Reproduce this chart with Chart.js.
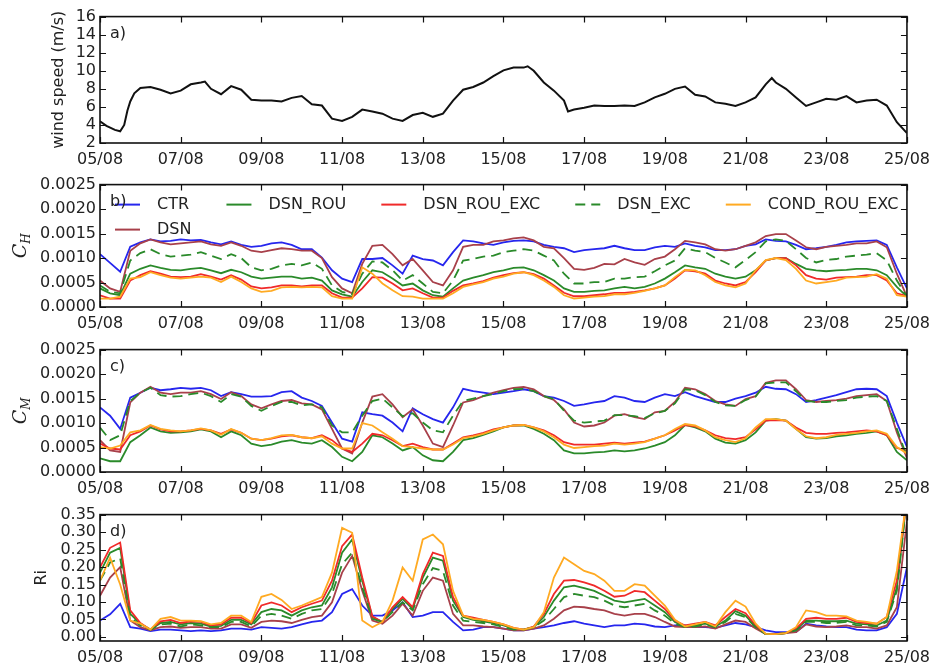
<!DOCTYPE html>
<html><head><meta charset="utf-8">
<script src="https://cdn.jsdelivr.net/npm/chart.js@4.4.1/dist/chart.umd.min.js"></script>
<style>
html,body{margin:0;padding:0;background:#fff;width:937px;height:666px;overflow:hidden;}
#wrap{position:relative;width:937px;height:666px;}
canvas{position:absolute;left:0;}
</style></head><body><div id="wrap">
<canvas id="ca"></canvas><canvas id="cb"></canvas><canvas id="cc"></canvas><canvas id="cd"></canvas>
</div>
<script>
// ---------- data ----------
const xTickValues = [0,2,4,6,8,10,12,14,16,18,20];
const xTickLabels = ['05/08','07/08','09/08','11/08','13/08','15/08','17/08','19/08','21/08','23/08','25/08'];
// time grid in days after 05/08 00:00, 6-hourly
const days = Array.from({length:81},(_,i)=>i/4);

const windDays = [0,0.16,0.37,0.5,0.6,0.68,0.75,0.85,1,1.25,1.5,1.75,2,2.25,2.5,2.6,2.75,3,3.25,3.5,3.75,4,4.25,4.5,4.75,5,5.25,5.5,5.75,6,6.25,6.5,6.75,7,7.25,7.5,7.75,8,8.25,8.5,8.75,9,9.25,9.5,9.75,10,10.25,10.5,10.6,10.75,11,11.25,11.5,11.6,11.75,12,12.25,12.5,12.75,13,13.25,13.5,13.75,14,14.25,14.5,14.75,15,15.25,15.5,15.75,16,16.25,16.5,16.65,16.75,17,17.25,17.5,17.75,18,18.25,18.5,18.75,19,19.25,19.5,19.75,20];
const windSpeed = [4.4,3.9,3.45,3.3,4.0,5.6,6.6,7.5,8.1,8.2,7.9,7.5,7.8,8.5,8.7,8.8,8.0,7.4,8.3,7.9,6.8,6.7,6.7,6.6,7.0,7.2,6.3,6.15,4.7,4.45,4.9,5.7,5.5,5.25,4.7,4.45,5.1,5.35,4.9,5.25,6.7,7.9,8.2,8.7,9.4,10.05,10.35,10.35,10.5,10.0,8.7,7.8,6.7,5.5,5.7,5.9,6.15,6.1,6.1,6.15,6.1,6.5,7.05,7.45,8.0,8.25,7.35,7.15,6.5,6.35,6.1,6.5,7.05,8.5,9.2,8.7,8.0,7.05,6.1,6.5,6.9,6.8,7.2,6.5,6.7,6.8,6.15,4.3,3.1];

const C_SCALE = 1e-4; // C_H and C_M arrays below are in units of 1e-4
const chCTR = [10.8,9.0,7.2,12.3,13.2,13.8,13.4,13.5,13.8,13.6,13.7,13.2,12.8,13.4,12.7,12.3,12.5,13.0,13.2,12.7,11.8, 11.8,10.1,7.5,5.8,5.1,9.8,9.8,10.0,8.5,6.8,10.5,9.8,9.5,8.5,11.2,13.6,13.4,13.0,12.7,13.2, 13.5,13.6,13.4,12.7,12.3,12.0,11.2,11.6,11.8,12.0,12.5,12.0,11.6,11.6,12.2,12.5,12.3,13.0,12.5,12.2, 11.6,11.6,11.8,12.5,12.8,13.8,13.5,13.4,12.7,11.8,12.0,12.3,12.7,13.2,13.4,13.5,13.6,12.7,8.1,3.8];
const chDSN = [5.4,3.8,3.1,11.5,13.0,13.8,13.2,12.8,13.0,13.2,13.4,12.8,12.5,13.2,12.5,11.5,11.2,11.6,12.0,11.8,11.5, 11.5,10.0,6.1,3.8,2.8,8.8,12.5,12.7,10.8,8.5,9.8,7.5,5.1,4.4,7.5,12.3,12.7,12.7,13.4,13.6, 14.0,14.2,13.6,12.3,12.0,10.0,7.8,7.6,8.0,8.8,8.7,9.8,9.1,8.6,9.8,10.3,11.8,13.5,13.2,12.8, 11.8,11.5,11.8,12.5,13.2,14.5,14.9,14.9,13.6,12.2,11.8,12.3,12.5,12.7,13.0,13.0,13.4,12.2,6.8,2.1];
const chROU = [3.8,2.8,2.4,6.8,7.8,8.5,8.0,7.6,7.5,7.8,8.0,7.5,6.9,7.6,7.1,6.2,5.8,6.0,6.2,6.2,5.8, 6.0,5.4,3.4,2.6,2.1,5.1,7.5,7.1,5.8,4.4,4.8,3.4,2.4,2.1,3.8,5.4,6.0,6.5,7.1,7.5, 8.0,8.1,7.5,6.5,5.4,3.8,3.1,3.1,3.3,3.4,3.8,4.1,3.8,4.1,4.8,5.8,7.1,8.5,8.1,7.8, 6.8,6.2,5.8,6.2,7.5,9.5,10.0,10.0,8.8,7.8,7.5,7.3,7.5,7.6,7.8,7.8,7.5,6.5,4.1,2.1];
const chROUEXC = [2.4,1.7,1.7,5.4,6.5,7.3,6.8,6.2,6.1,6.2,6.7,6.2,5.6,6.5,5.6,4.2,3.8,4.0,4.4,4.4,4.2, 4.4,4.4,2.8,1.9,1.9,3.8,6.1,6.0,4.8,3.4,3.8,2.8,1.9,1.9,3.3,4.4,4.8,5.3,6.0,6.5, 6.9,7.1,6.7,5.8,4.4,2.9,2.2,2.2,2.4,2.6,2.9,2.9,3.1,3.4,3.8,4.4,5.8,7.5,7.3,6.8, 5.4,4.8,4.4,5.1,7.1,9.5,10.0,10.0,8.5,6.5,5.8,5.6,6.0,6.1,6.2,6.5,6.5,5.4,2.8,2.2];
const chEXC = [4.4,3.1,2.8,9.5,11.0,11.8,10.8,10.3,10.5,10.7,11.2,10.5,9.8,10.8,10.0,8.1,7.5,7.8,8.5,8.8,8.5, 9.1,7.8,4.4,3.1,2.6,6.8,9.3,9.1,7.5,5.4,6.5,4.8,3.1,2.8,5.4,9.5,9.8,10.3,10.5,11.2, 11.5,11.8,11.5,10.5,9.5,6.8,4.8,4.8,5.1,5.1,5.8,5.8,6.1,6.2,7.3,8.5,9.5,12.0,11.5,11.2, 10.0,9.1,8.1,9.6,11.2,13.4,13.8,13.5,11.8,10.0,9.1,9.6,9.8,10.3,10.5,10.7,11.0,9.5,5.4,2.1];
const chCOND = [1.7,1.7,2.1,5.8,6.1,7.1,6.5,6.0,5.8,6.0,6.2,6.0,5.1,6.2,5.1,3.8,3.1,3.3,4.0,4.1,4.0, 4.1,4.0,2.2,1.7,1.7,8.1,6.8,4.8,3.4,2.2,2.1,1.7,1.7,1.7,2.8,4.1,4.6,5.1,5.8,6.2, 6.8,7.1,6.5,5.4,4.1,2.4,1.7,1.9,2.1,2.2,2.6,2.6,2.9,3.3,3.8,4.4,6.1,7.6,7.5,6.5, 5.1,4.4,4.0,4.8,7.5,9.6,10.0,9.6,7.8,5.4,4.8,5.1,5.4,6.0,6.1,6.2,6.7,5.8,2.4,2.1];

const cmCTR = [13.2,11.5,8.8,15.2,16.2,17.2,16.7,16.9,17.2,17.0,17.2,16.7,15.5,16.3,15.9,15.4,15.4,15.5,16.3,16.5,15.2, 14.5,13.5,10.1,6.8,6.2,12.2,11.8,11.5,10.1,8.3,13.0,11.8,10.8,10.1,13.2,17.0,16.5,16.2,15.9,16.2, 16.5,16.9,16.5,15.5,15.2,14.5,13.5,13.8,14.2,14.5,15.5,15.2,14.5,14.3,15.2,15.9,15.5,16.3,15.5,14.9, 14.3,14.3,15.0,15.5,16.2,17.4,17.0,16.9,15.9,14.3,14.7,15.2,15.7,16.3,16.9,17.0,16.9,15.5,10.1,5.1];
const cmDSN = [6.5,4.4,4.1,14.2,16.2,17.4,16.2,15.9,16.2,16.2,16.5,15.9,14.9,16.3,15.5,13.8,13.0,13.8,14.5,14.7,14.0, 13.8,12.8,8.8,4.8,3.8,10.1,15.4,15.9,13.8,11.2,12.8,9.5,5.8,5.1,9.5,14.2,14.7,15.5,16.2,16.7, 17.2,17.4,16.9,15.5,14.7,12.8,10.1,9.3,9.5,10.1,11.5,11.8,11.2,10.8,12.2,12.5,14.3,17.2,16.9,15.9, 14.5,13.8,13.5,14.9,15.5,18.2,18.7,18.7,16.9,14.7,14.3,14.5,14.7,15.0,15.5,15.7,15.9,14.5,8.1,2.8];
const cmROU = [2.8,2.2,2.2,6.1,7.5,9.1,8.3,8.0,8.1,8.3,8.7,8.3,7.1,8.3,7.5,5.8,5.3,5.6,6.2,6.5,6.0, 5.8,6.5,5.1,3.1,2.2,4.1,7.5,7.1,5.8,4.4,5.1,3.4,2.4,2.2,4.1,6.5,6.9,7.6,8.3,9.1, 9.5,9.5,8.8,7.8,6.5,4.4,3.8,3.8,4.0,4.1,4.4,4.2,4.4,4.8,5.4,6.1,7.5,9.6,9.1,8.3, 6.8,6.0,5.8,6.5,8.1,10.5,10.8,10.5,8.8,7.1,6.8,6.9,7.3,7.5,7.8,8.0,8.3,7.5,4.1,2.4];
const cmROUEXC = [5.8,4.8,4.6,7.5,8.3,9.5,8.7,8.3,8.3,8.5,8.8,8.5,7.8,8.7,8.0,6.8,6.5,6.8,7.3,7.5,7.1, 6.9,7.5,6.5,4.8,4.1,5.8,7.8,7.5,6.5,5.3,5.8,5.1,4.6,4.6,5.8,7.1,7.5,8.0,8.7,9.1, 9.5,9.6,9.1,8.5,7.5,6.1,5.6,5.6,5.6,5.8,6.0,5.8,6.0,6.2,6.8,7.5,8.5,9.6,9.3,8.5, 7.5,6.9,6.7,7.1,8.7,10.5,10.6,10.5,9.1,8.0,7.8,7.8,8.0,8.1,8.3,8.5,8.3,7.5,4.9,4.4];
const cmEXC = [9.1,6.5,7.5,14.5,16.2,17.2,15.7,15.4,15.5,15.9,16.2,15.5,14.3,15.9,15.4,13.5,12.5,13.5,14.3,14.3,13.6, 13.8,13.2,9.5,8.1,8.1,11.5,14.5,15.0,13.2,11.4,12.0,10.1,8.5,8.1,11.5,14.5,15.0,15.5,15.9,16.5, 16.9,17.0,16.5,15.5,14.9,12.5,10.5,10.1,10.3,10.5,11.6,11.6,11.4,11.0,12.0,12.5,14.0,16.9,16.7,15.7, 14.3,13.6,13.5,14.7,15.4,18.1,18.3,18.3,16.5,14.5,14.3,14.3,14.5,14.7,15.2,15.4,15.5,14.5,8.8,3.1];
const cmCOND = [5.1,4.8,5.4,8.1,8.5,9.6,8.8,8.5,8.3,8.5,8.9,8.5,7.6,8.8,8.0,6.8,6.5,6.9,7.5,7.6,7.1, 6.9,7.3,5.8,4.8,4.8,10.0,9.5,8.1,6.8,5.3,5.1,4.8,4.6,4.6,5.6,6.9,7.3,7.8,8.5,9.1, 9.5,9.6,9.1,8.3,7.1,5.6,4.9,5.1,5.3,5.4,5.8,5.6,5.8,6.1,6.8,7.5,8.8,9.8,9.5,8.5, 7.1,6.5,6.1,6.9,9.1,10.8,10.8,10.5,8.8,7.3,6.9,7.1,7.6,7.8,8.0,8.3,8.5,7.8,5.1,3.8];

const riCTR = [0.047,0.065,0.095,0.028,0.024,0.017,0.021,0.021,0.019,0.017,0.019,0.017,0.019,0.024,0.024,0.021,0.028,0.026,0.024,0.028,0.036, 0.043,0.047,0.071,0.123,0.137,0.090,0.061,0.061,0.076,0.099,0.057,0.061,0.071,0.071,0.043,0.019,0.021,0.028,0.028,0.024, 0.019,0.019,0.024,0.028,0.033,0.040,0.045,0.038,0.033,0.028,0.033,0.033,0.038,0.036,0.030,0.028,0.033,0.033,0.028,0.028, 0.026,0.033,0.040,0.036,0.028,0.019,0.014,0.014,0.014,0.038,0.033,0.030,0.028,0.028,0.021,0.019,0.019,0.028,0.066,0.199];
const riDSN = [0.118,0.170,0.200,0.047,0.028,0.019,0.028,0.030,0.026,0.028,0.028,0.024,0.024,0.036,0.036,0.026,0.043,0.047,0.045,0.040,0.049, 0.057,0.061,0.099,0.184,0.232,0.132,0.047,0.038,0.061,0.095,0.061,0.132,0.170,0.161,0.066,0.033,0.033,0.030,0.028,0.024, 0.019,0.019,0.024,0.033,0.052,0.076,0.087,0.085,0.080,0.076,0.066,0.061,0.066,0.066,0.057,0.043,0.030,0.028,0.028,0.030, 0.024,0.036,0.047,0.043,0.024,0.008,0.008,0.011,0.014,0.036,0.030,0.028,0.030,0.033,0.028,0.028,0.024,0.033,0.085,0.330];
const riROU = [0.184,0.241,0.255,0.066,0.038,0.021,0.040,0.043,0.036,0.040,0.038,0.030,0.032,0.049,0.049,0.036,0.071,0.080,0.076,0.061,0.076, 0.085,0.090,0.142,0.241,0.279,0.161,0.057,0.043,0.080,0.109,0.080,0.170,0.227,0.218,0.104,0.057,0.049,0.045,0.040,0.033, 0.024,0.021,0.028,0.057,0.104,0.142,0.147,0.140,0.132,0.118,0.104,0.099,0.104,0.109,0.090,0.071,0.043,0.030,0.033,0.038, 0.030,0.047,0.074,0.061,0.030,0.008,0.008,0.011,0.021,0.047,0.047,0.045,0.045,0.047,0.038,0.036,0.033,0.047,0.142,0.400];
const riROUEXC = [0.199,0.255,0.270,0.076,0.040,0.021,0.045,0.049,0.040,0.045,0.043,0.033,0.036,0.055,0.055,0.040,0.090,0.099,0.090,0.071,0.085, 0.095,0.104,0.161,0.260,0.293,0.170,0.059,0.043,0.085,0.114,0.085,0.180,0.241,0.232,0.114,0.061,0.055,0.049,0.043,0.036, 0.026,0.021,0.030,0.066,0.123,0.161,0.163,0.156,0.147,0.132,0.115,0.118,0.132,0.128,0.104,0.080,0.047,0.033,0.038,0.043, 0.033,0.057,0.080,0.068,0.033,0.008,0.008,0.011,0.024,0.052,0.055,0.052,0.052,0.055,0.043,0.040,0.038,0.057,0.161,0.400];
const riEXC = [0.161,0.213,0.225,0.057,0.033,0.021,0.036,0.038,0.030,0.036,0.033,0.028,0.028,0.043,0.043,0.030,0.061,0.066,0.061,0.052,0.066, 0.076,0.080,0.123,0.208,0.241,0.142,0.052,0.043,0.071,0.099,0.076,0.151,0.197,0.189,0.090,0.047,0.043,0.040,0.036,0.028, 0.021,0.021,0.028,0.047,0.080,0.114,0.123,0.118,0.114,0.104,0.090,0.085,0.090,0.095,0.076,0.061,0.038,0.028,0.030,0.036, 0.028,0.043,0.066,0.057,0.028,0.008,0.008,0.011,0.019,0.043,0.043,0.040,0.040,0.043,0.033,0.033,0.030,0.043,0.132,0.400];
const riCOND = [0.161,0.227,0.150,0.047,0.038,0.021,0.052,0.057,0.047,0.047,0.045,0.036,0.040,0.061,0.061,0.043,0.115,0.123,0.106,0.080,0.090, 0.102,0.114,0.184,0.312,0.298,0.047,0.028,0.043,0.104,0.199,0.161,0.279,0.293,0.265,0.132,0.061,0.052,0.049,0.043,0.036, 0.026,0.021,0.028,0.071,0.170,0.227,0.208,0.189,0.180,0.161,0.132,0.132,0.151,0.147,0.118,0.090,0.049,0.030,0.036,0.043, 0.030,0.071,0.104,0.087,0.038,0.009,0.008,0.011,0.028,0.076,0.071,0.061,0.061,0.059,0.047,0.043,0.038,0.057,0.189,0.400];

const yTicksA = [2,4,6,8,10,12,14,16];
const yTicksC = [0,0.0005,0.001,0.0015,0.002,0.0025];
const yTicksRi = [0,0.05,0.1,0.15,0.2,0.25,0.3,0.35];

// ---------- styles ----------
const SERIES = [
  {name:'CTR',          color:'#2626ee', dash:[]},
  {name:'DSN',          color:'#a8404a', dash:[]},
  {name:'DSN_ROU',      color:'#2a8a2a', dash:[]},
  {name:'DSN_ROU_EXC',  color:'#f02a2a', dash:[]},
  {name:'DSN_EXC',      color:'#2a8a2a', dash:[10,6]},
  {name:'COND_ROU_EXC', color:'#ffaa22', dash:[]}
];
const TXT = '#222';
const FONT = '"DejaVu Sans", sans-serif';

function seriesSets(arrays, scale) {
  return arrays.map((arr, i) => ({
    label: SERIES[i].name,
    data: days.map((d, k) => ({x: d, y: arr[k] * scale})),
    borderColor: SERIES[i].color,
    borderDash: SERIES[i].dash,
    borderWidth: 1.8,
    pointRadius: 0,
    fill: false,
    tension: 0,
    order: arrays.length - i
  }));
}

// ---------- plugins ----------
const framePlugin = {
  id: 'frame',
  afterDraw(chart, args, opts) {
    const {ctx, chartArea: a, scales} = chart;
    ctx.save();
    ctx.strokeStyle = '#111';
    ctx.lineWidth = 1.2;
    const L = 6;
    ctx.beginPath();
    scales.x.ticks.forEach(t => {
      const px = Math.round(scales.x.getPixelForValue(t.value)) + 0.5;
      ctx.moveTo(px, a.top); ctx.lineTo(px, a.top + L);
      ctx.moveTo(px, a.bottom); ctx.lineTo(px, a.bottom - L);
    });
    scales.y.ticks.forEach(t => {
      const py = Math.round(scales.y.getPixelForValue(t.value)) + 0.5;
      ctx.moveTo(a.left, py); ctx.lineTo(a.left + L, py);
      ctx.moveTo(a.right, py); ctx.lineTo(a.right - L, py);
    });
    ctx.stroke();
    ctx.lineWidth = 1.6;
    ctx.strokeRect(a.left, a.top, a.right - a.left, a.bottom - a.top);
    ctx.fillStyle = TXT;
    ctx.font = '16px ' + FONT;
    ctx.textAlign = 'left';
    ctx.textBaseline = 'middle';
    ctx.fillText(opts.letter, a.left + 10, a.top + 17);
    // y-axis title
    const cy = (a.top + a.bottom) / 2;
    ctx.translate(opts.titleX, cy);
    ctx.rotate(-Math.PI / 2);
    if (opts.sub) {
      ctx.font = 'italic 19px "DejaVu Serif", serif';
      const wC = ctx.measureText(opts.title).width;
      ctx.font = 'italic 12px "DejaVu Serif", serif';
      const wS = ctx.measureText(opts.sub).width;
      const x0 = -(wC + wS) / 2;
      ctx.textAlign = 'left';
      ctx.textBaseline = 'alphabetic';
      ctx.font = 'italic 19px "DejaVu Serif", serif';
      ctx.fillText(opts.title, x0, 6);
      ctx.font = 'italic 12px "DejaVu Serif", serif';
      ctx.fillText(opts.sub, x0 + wC, 10);
    } else {
      ctx.font = '16px ' + FONT;
      ctx.textAlign = 'center';
      ctx.textBaseline = 'middle';
      ctx.fillText(opts.title, 0, 0);
    }
    ctx.restore();
  }
};

const legendPlugin = {
  id: 'panelLegend',
  afterDatasetsDraw(chart, args, opts) {
    if (!opts.show) return;
    const {ctx, chartArea: a} = chart;
    const cols = [[0, 1], [2], [3], [4], [5]];
    ctx.save();
    ctx.font = '16px ' + FONT;
    ctx.textAlign = 'left';
    ctx.textBaseline = 'middle';
    let x = a.left + 15;
    cols.forEach(col => {
      let maxW = 0;
      col.forEach((si, r) => {
        const s = SERIES[si];
        const y = a.top + 20 + r * 25;
        ctx.strokeStyle = s.color;
        ctx.lineWidth = 2;
        ctx.setLineDash(s.dash);
        ctx.beginPath(); ctx.moveTo(x, y); ctx.lineTo(x + 25, y); ctx.stroke();
        ctx.setLineDash([]);
        ctx.fillStyle = TXT;
        ctx.fillText(s.name, x + 42, y);
        maxW = Math.max(maxW, ctx.measureText(s.name).width);
      });
      x += 42 + maxW + 35;
    });
    ctx.restore();
  }
};

// ---------- charts ----------
function makePanel(id, top, plotH, datasets, yMin, yMax, yTicks, fmt, frameOpts, showLegend) {
  const PADT = 12, XH = 28;
  const cv = document.getElementById(id);
  const H = PADT + plotH + XH;
  cv.width = 937; cv.height = H;
  cv.style.width = '937px'; cv.style.height = H + 'px';
  cv.style.top = (top - PADT) + 'px';
  return new Chart(cv, {
    type: 'line',
    data: {datasets},
    options: {
      responsive: false, animation: false, devicePixelRatio: 1,
      layout: {padding: {top: PADT, right: 27, left: 0, bottom: 0}},
      plugins: {legend: {display: false}, tooltip: {enabled: false},
        frame: frameOpts, panelLegend: {show: showLegend}},
      scales: {
        x: {
          type: 'linear', min: 0, max: 20,
          afterBuildTicks: s => { s.ticks = xTickValues.map(v => ({value: v})); },
          ticks: {callback: (v, i) => xTickLabels[i], font: {family: FONT, size: 16}, color: TXT,
                  padding: 7, maxRotation: 0, autoSkip: false},
          grid: {display: false, drawTicks: false}, border: {display: false},
          afterFit: s => { s.height = XH; }
        },
        y: {
          type: 'linear', min: yMin, max: yMax,
          afterBuildTicks: s => { s.ticks = yTicks.map(v => ({value: v})); },
          ticks: {callback: v => fmt(v), font: {family: FONT, size: 16}, color: TXT, padding: 4, autoSkip: false},
          grid: {display: false, drawTicks: false}, border: {display: false},
          afterFit: s => { s.width = 100; }
        }
      }
    },
    plugins: [framePlugin, legendPlugin]
  });
}

makePanel('ca', 15, 128,
  [{label: 'wind', data: windDays.map((d, k) => ({x: d, y: windSpeed[k]})), borderColor: '#111',
    borderWidth: 2, pointRadius: 0, tension: 0, fill: false}],
  2, 16, yTicksA, v => String(v), {letter: 'a)', title: 'wind speed (m/s)', titleX: 59}, false);

makePanel('cb', 183, 124, seriesSets([chCTR, chDSN, chROU, chROUEXC, chEXC, chCOND], C_SCALE),
  0, 0.0025, yTicksC, v => v.toFixed(4), {letter: 'b)', title: 'C', sub: 'H', titleX: 20}, true);

makePanel('cc', 348, 124, seriesSets([cmCTR, cmDSN, cmROU, cmROUEXC, cmEXC, cmCOND], C_SCALE),
  0, 0.0025, yTicksC, v => v.toFixed(4), {letter: 'c)', title: 'C', sub: 'M', titleX: 20}, false);

makePanel('cd', 513, 128, seriesSets([riCTR, riDSN, riROU, riROUEXC, riEXC, riCOND], 1),
  -0.0115, 0.35, yTicksRi, v => v.toFixed(2), {letter: 'd)', title: 'Ri', titleX: 42}, false);
</script>
</body></html>
